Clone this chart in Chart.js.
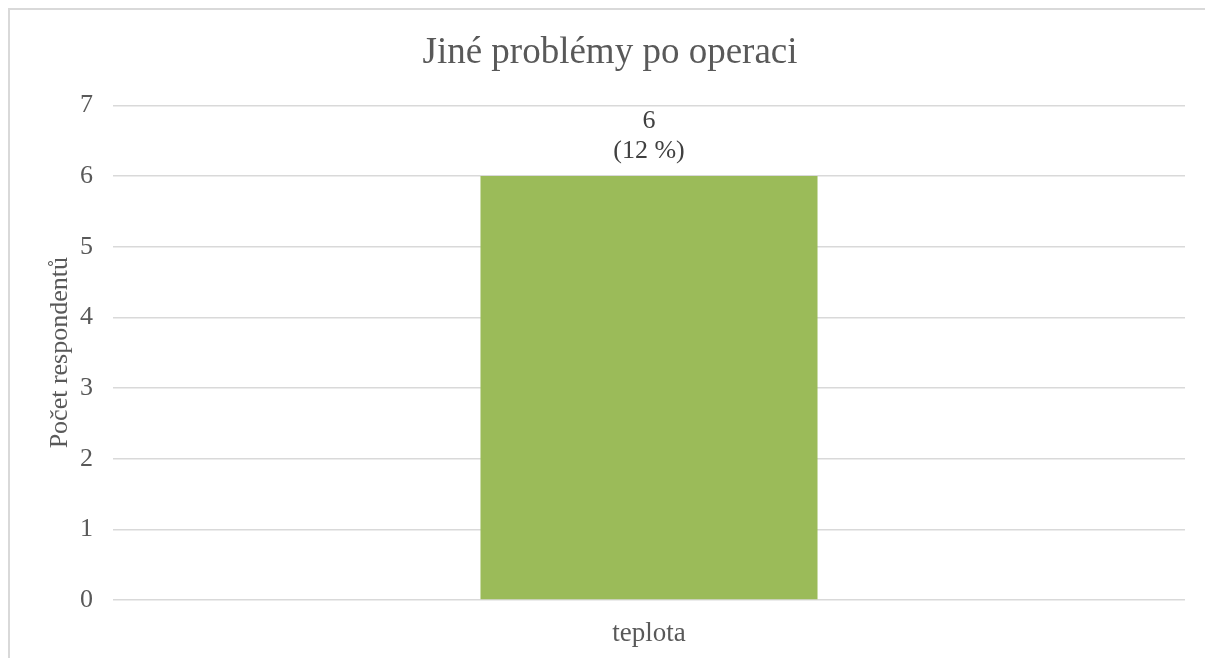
<!DOCTYPE html>
<html>
<head>
<meta charset="utf-8">
<script src="https://cdn.jsdelivr.net/npm/chart.js@4"></script>
<style>
  html, body { margin: 0; padding: 0; background: #fff; overflow: hidden; }
  #frame {
    position: absolute; left: 8px; top: 8px; width: 1260px; height: 700px;
    border: 2px solid #d9d9d9; box-sizing: border-box;
  }
  #wrap { position: absolute; left: 0; top: 0; width: 1205px; height: 658px; }
</style>
</head>
<body>
<div id="frame"></div>
<div id="wrap"><canvas id="chart" width="1205" height="658"></canvas></div>
<script>
// data
const categories = ["teplota"];
const counts = [6];
const percents = [12];
const yTicks = [0, 1, 2, 3, 4, 5, 6, 7];

const serif = "'Liberation Serif', 'Times New Roman', serif";

// draws "6" and "(12 %)" above each bar
const valueLabels = {
  id: "valueLabels",
  afterDatasetsDraw(chart) {
    const ctx = chart.ctx;
    const meta = chart.getDatasetMeta(0);
    ctx.save();
    ctx.fillStyle = "#404040";
    ctx.font = "26px " + serif;
    ctx.textAlign = "center";
    ctx.textBaseline = "alphabetic";
    meta.data.forEach((bar, i) => {
      ctx.fillText(String(counts[i]), bar.x, bar.y - 48);
      ctx.fillText("(" + percents[i] + " %)", bar.x, bar.y - 18);
    });
    ctx.restore();
  }
};

new Chart(document.getElementById("chart").getContext("2d"), {
  type: "bar",
  data: {
    labels: categories,
    datasets: [{
      data: counts,
      backgroundColor: "#9bbb59",
      borderWidth: 0,
      barPercentage: 0.3144,
      categoryPercentage: 1
    }]
  },
  options: {
    responsive: false,
    animation: false,
    layout: { padding: { left: 35, right: 20, top: 0, bottom: 0 } },
    plugins: {
      legend: { display: false },
      tooltip: { enabled: false },
      title: {
        display: true,
        text: "Jiné problémy po operaci",
        color: "#595959",
        font: { family: serif, size: 37, weight: "normal" },
        padding: { top: 31, bottom: 30 }
      }
    },
    scales: {
      x: {
        grid: { display: false, drawTicks: false },
        border: { display: false },
        ticks: { color: "#595959", font: { family: serif, size: 27 }, padding: 18 },
        afterFit: (s) => { s.height = 58; }
      },
      y: {
        min: 0,
        max: 7,
        afterBuildTicks: (s) => { s.ticks = yTicks.map(v => ({ value: v })); },
        grid: { color: "#d9d9d9", lineWidth: 1.5, drawTicks: false },
        border: { display: false },
        ticks: { color: "#595959", font: { family: serif, size: 26 }, padding: 20 },
        title: {
          display: true,
          text: "Počet respondentů",
          color: "#595959",
          font: { family: serif, size: 26 },
          padding: { top: 10, bottom: 0 }
        },
        afterFit: (s) => { s.width = 78; }
      }
    }
  },
  plugins: [valueLabels]
});
</script>
</body>
</html>
